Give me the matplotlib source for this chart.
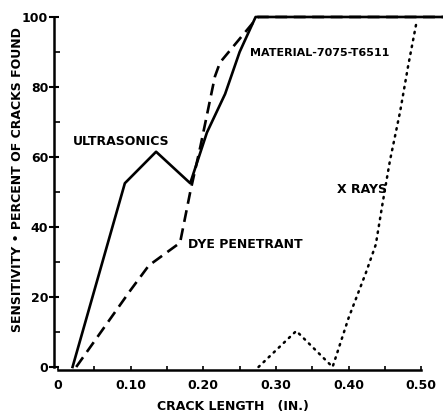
import matplotlib
matplotlib.use("Agg")
import matplotlib.pyplot as plt
import numpy as np

# 読み取った値 (crack length in., percent found)
ultra_x = [0.02, 0.092, 0.135, 0.182, 0.205, 0.23, 0.25, 0.272, 0.53]
ultra_y = [0, 52.5, 61.5, 52.5, 67, 78, 90, 100, 100]

dye_x = [0.025, 0.10, 0.125, 0.168, 0.182, 0.196, 0.209, 0.216, 0.223, 0.237, 0.255, 0.275, 0.53]
dye_y = [0, 22, 29, 35.5, 50, 63, 76, 83, 87, 90.5, 95, 100, 100]

xray_x = [0.276, 0.328, 0.378, 0.40, 0.424, 0.4375, 0.447, 0.457, 0.471, 0.482, 0.494]
xray_y = [0, 10.3, 0, 14, 27, 35, 47, 59, 73, 86, 99]

x_ticks = [0, 0.10, 0.20, 0.30, 0.40, 0.50]
x_labels = ["0", "0.10", "0.20", "0.30", "0.40", "0.50"]
y_ticks = [0, 20, 40, 60, 80, 100]

plt.rcParams["font.family"] = ["Liberation Sans Narrow", "DejaVu Sans"]
plt.rcParams["font.weight"] = "bold"

fig = plt.figure(figsize=(4.43, 4.16), dpi=100)
ax = fig.add_axes([0.1228, 0.1094, 0.8772, 0.8666])

ax.plot(ultra_x, ultra_y, color="black", lw=1.9, clip_on=False)
ax.plot(dye_x, dye_y, color="black", lw=1.9, linestyle=(0, (4.5, 2.5)), clip_on=False)
ax.plot(xray_x, xray_y, color="black", lw=1.8, linestyle=(0, (0.6, 2.2)),
        dash_capstyle="round", clip_on=False)

ax.set_xlim(-0.005, 0.53)
ax.set_ylim(-1, 102)

for s in ["top", "right"]:
    ax.spines[s].set_visible(False)
ax.spines["left"].set_bounds(0, 100)
ax.spines["bottom"].set_bounds(0, 0.5)
ax.spines["left"].set_linewidth(1.8)
ax.spines["bottom"].set_linewidth(1.8)

ax.set_xticks(x_ticks)
ax.set_xticklabels(x_labels)
ax.set_xticks(np.arange(0.05, 0.5, 0.1), minor=True)
ax.set_yticks(y_ticks)
ax.set_yticks([10, 30, 50, 70, 90], minor=True)
ax.tick_params(axis="y", which="major", direction="inout", length=7, width=1.5,
               labelsize=9, pad=1)
ax.tick_params(axis="y", which="minor", direction="in", length=4, width=1.2)
ax.tick_params(axis="x", which="both", direction="in", length=3, width=1.2,
               labelsize=9, pad=6)

ax.set_xlabel("CRACK LENGTH   (IN.)", fontsize=9, fontweight="bold")
ax.xaxis.set_label_coords(0.46, -0.083)
ax.set_ylabel("SENSITIVITY \u2022 PERCENT OF CRACKS FOUND", fontsize=9,
              fontweight="bold")
ax.yaxis.set_label_coords(-0.078, 0.53)

ax.text(0.021, 64.3, "ULTRASONICS", fontsize=9, fontweight="bold", va="center")
ax.text(0.179, 35.1, "DYE PENETRANT", fontsize=9, fontweight="bold", va="center")
ax.text(0.384, 50.6, "X RAYS", fontsize=9, fontweight="bold", va="center")
ax.text(0.264, 89.6, "MATERIAL-7075-T6511", fontsize=8, fontweight="bold", va="center")

fig.savefig("out.png", dpi=100)
